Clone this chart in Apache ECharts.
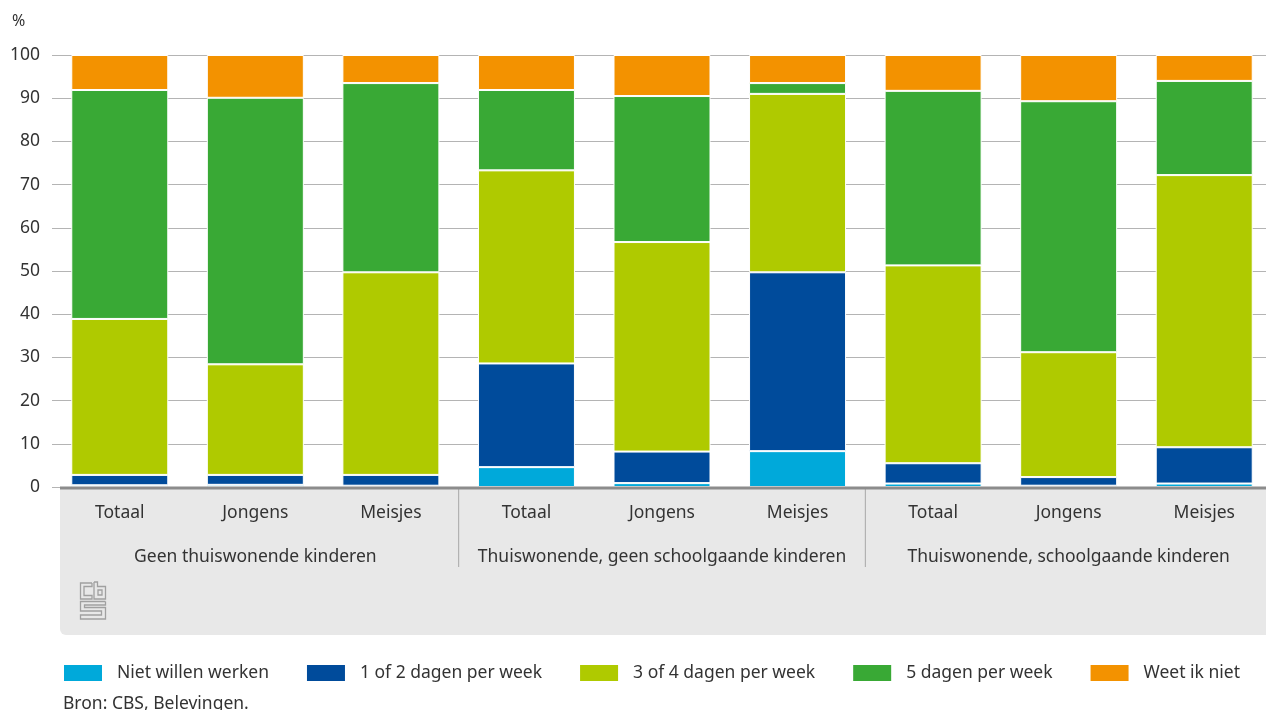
<!DOCTYPE html>
<html>
<head>
<meta charset="utf-8">
<script src="https://cdn.jsdelivr.net/npm/echarts@6/dist/echarts.min.js"></script>
<style>
  html, body { margin: 0; padding: 0; background: #fff; }
  #chart { width: 1266px; height: 710px; }
</style>
</head>
<body>
<div id="chart"></div>
<script>
// categorieen en groepen
var categories = ['Totaal', 'Jongens', 'Meisjes', 'Totaal', 'Jongens', 'Meisjes', 'Totaal', 'Jongens', 'Meisjes'];
var groups = ['Geen thuiswonende kinderen', 'Thuiswonende, geen schoolgaande kinderen', 'Thuiswonende, schoolgaande kinderen'];
var yTicks = [0, 10, 20, 30, 40, 50, 60, 70, 80, 90, 100];

// waarden in %
var nietWillen = [0.4, 0.5, 0.3, 4.6, 0.9, 8.3, 0.8, 0.3, 0.8];
var dagen12 = [2.4, 2.3, 2.5, 24.0, 7.3, 41.4, 4.7, 2.0, 8.4];
var dagen34 = [36.1, 25.6, 46.9, 44.7, 48.5, 41.3, 45.8, 28.9, 63.0];
var dagen5 = [53.0, 61.7, 43.8, 18.6, 33.8, 2.5, 40.4, 58.1, 21.8];
var weetNiet = [8.1, 9.9, 6.5, 8.1, 9.5, 6.5, 8.3, 10.7, 6.0];

var seriesNames = ['Niet willen werken', '1 of 2 dagen per week', '3 of 4 dagen per week', '5 dagen per week', 'Weet ik niet'];
var seriesData = [nietWillen, dagen12, dagen34, dagen5, weetNiet];
var colors = ['#00a9da', '#004b9b', '#afca00', '#39a935', '#f39200'];

var FONT = 'Noto Sans';
var FS = 17.5;
var chart = echarts.init(document.getElementById('chart'));

var option = {
  animation: false,
  textStyle: { fontFamily: FONT },
  color: colors,
  grid: { left: 52, width: 1220, top: 55, height: 432, outerBoundsMode: 'none', containLabel: false },
  legend: {
    left: 64,
    top: 664,
    padding: 0,
    itemWidth: 38,
    itemHeight: 16,
    itemGap: 38,
    icon: 'rect',
    itemStyle: { borderWidth: 0 },
    textStyle: { fontSize: FS, color: '#333', padding: [0, 0, 0, 10] },
    data: seriesNames
  },
  xAxis: [
    {
      type: 'category',
      data: categories,
      axisLine: { show: false },
      axisTick: { show: false },
      axisLabel: { fontSize: FS, color: '#333', margin: 17, interval: 0 }
    },
    {
      type: 'category',
      data: groups,
      position: 'bottom',
      axisLine: { show: false },
      axisTick: { show: false },
      axisLabel: { fontSize: FS, color: '#333', margin: 61, interval: 0, hideOverlap: false }
    }
  ],
  yAxis: {
    type: 'value',
    min: yTicks[0],
    max: yTicks[yTicks.length - 1],
    interval: 10,
    axisLine: { show: false },
    axisTick: { show: false },
    axisLabel: { fontSize: FS, color: '#333', margin: 12 },
    splitLine: { lineStyle: { color: '#b4b4b4', width: 1 } }
  },
  series: seriesNames.map(function (name, i) {
    return {
      name: name,
      type: 'bar',
      stack: 'totaal',
      barWidth: 97,
      data: seriesData[i],
      itemStyle: { color: colors[i], borderColor: '#fff', borderWidth: 1 }
    };
  }),
  graphic: []
};

chart.setOption(option);

// achtergrond x-as, scheidingslijnen, logo en bron
var p = function (i) { return chart.convertToPixel({ xAxisIndex: 0 }, i); };
var sep1 = (p(2) + p(3)) / 2;
var sep2 = (p(5) + p(6)) / 2;
var logoStyle = { stroke: '#a0a0a0', lineWidth: 1.3, fill: null };

chart.setOption({
  graphic: [
    { type: 'rect', z: -10, shape: { x: 60, y: 488, width: 1206, height: 147, r: [0, 0, 0, 6] }, style: { fill: '#e8e8e8' } },
    { type: 'rect', z: 10, shape: { x: 60, y: 486.5, width: 1206, height: 3 }, style: { fill: '#8c8c8c' } },
    { type: 'line', shape: { x1: sep1, y1: 489, x2: sep1, y2: 567 }, style: { stroke: '#a8a8a8', lineWidth: 1 } },
    { type: 'line', shape: { x1: sep2, y1: 489, x2: sep2, y2: 567 }, style: { stroke: '#a8a8a8', lineWidth: 1 } },
    { type: 'text', left: 12, top: 13, style: { text: '%', font: '16px ' + FONT, fill: '#333' } },
    { type: 'text', left: 63, top: 695, style: { text: 'Bron: CBS, Belevingen.', font: FS + 'px ' + FONT, fill: '#333' } },
    // cbs logo
    { type: 'polyline', shape: { points: [[92, 583], [80.5, 583], [80.5, 599], [92, 599], [92, 595.5], [84, 595.5], [84, 586.5], [92, 586.5], [92, 583]] }, style: logoStyle },
    { type: 'polyline', shape: { points: [[94, 582], [97.5, 582], [97.5, 586.5], [105.5, 586.5], [105.5, 599], [94, 599], [94, 582]] }, style: logoStyle },
    { type: 'rect', shape: { x: 98, y: 590, width: 4, height: 5 }, style: logoStyle },
    { type: 'polyline', shape: { points: [[105.5, 601.5], [80.5, 601.5], [80.5, 611], [101.5, 611], [101.5, 615], [80.5, 615], [80.5, 619], [105.5, 619], [105.5, 607.5], [84.5, 607.5], [84.5, 605], [105.5, 605], [105.5, 601.5]] }, style: logoStyle }
  ]
});
</script>
</body>
</html>
